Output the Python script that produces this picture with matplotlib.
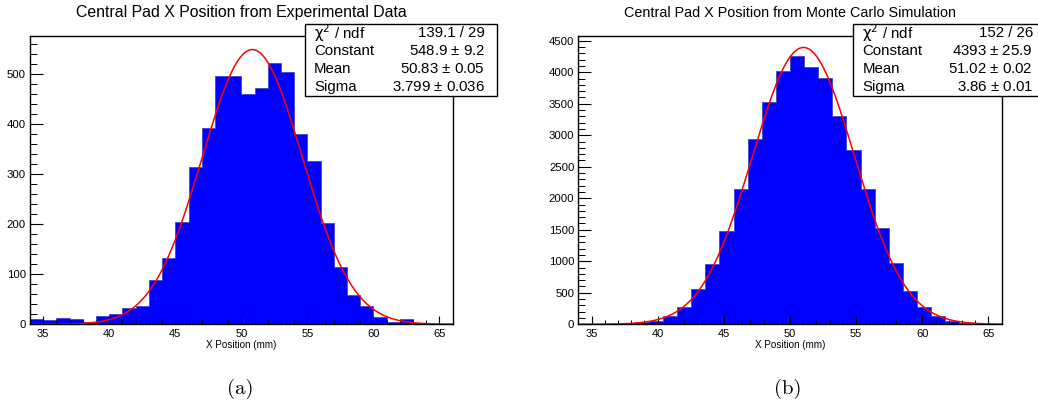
import numpy as np
import matplotlib
matplotlib.use("Agg")
import matplotlib.pyplot as plt
from matplotlib.ticker import MultipleLocator
from matplotlib.patches import Rectangle

# ---- data -------------------------------------------------------------
x_range = (34.0, 66.0)

# experimental data: 32 bins of 1 mm
exp_counts = [11, 9, 12, 11, 5, 17, 20, 32, 37, 89, 132, 204, 315, 393, 497, 497,
              461, 473, 523, 505, 380, 327, 203, 115, 59, 36, 15, 5, 10, 2, 1, 1]
# Monte Carlo: 30 bins over the same range
mc_counts = [0, 2, 6, 15, 32, 57, 132, 280, 566, 957, 1481, 2142, 2946, 3522, 4020,
             4258, 4088, 3903, 3306, 2761, 2142, 1534, 968, 534, 270, 132, 58, 25, 9, 3]

# gaussian fit results (constant, mean, sigma)
exp_fit = (548.9, 50.83, 3.799)
mc_fit = (4393.0, 51.02, 3.86)

titles = ["Central Pad X Position from Experimental Data",
          "Central Pad X Position from Monte Carlo Simulation"]
stat_labels = [r"$\mathrm{\chi}^{2}$ / ndf", "Constant", "Mean", "Sigma"]
exp_stats = ["139.1 / 29", "548.9 $\\pm$ 9.2", "50.83 $\\pm$ 0.05", "3.799 $\\pm$ 0.036"]
mc_stats = ["152 / 26", "4393 $\\pm$ 25.9", "51.02 $\\pm$ 0.02", "3.86 $\\pm$ 0.01"]
xlabel = "X Position (mm)"
captions = ["(a)", "(b)"]

# ---- figure -----------------------------------------------------------
W, H = 1038, 407
plt.rcParams["font.family"] = ["Liberation Sans", "DejaVu Sans"]
plt.rcParams["mathtext.fontset"] = "custom"
plt.rcParams["mathtext.rm"] = "Liberation Sans"
plt.rcParams["mathtext.it"] = "Liberation Sans:italic"
fig = plt.figure(figsize=(W / 100, H / 100), dpi=100)


def px_box(x0, y0, x1, y1):
    """Convert pixel box (top-left origin) to figure fraction rect."""
    return [x0 / W, 1 - y1 / H, (x1 - x0) / W, (y1 - y0) / H]


def draw_panel(rect, counts, fit, title, title_size, stats, ymax, ymaj, ymin_step,
               stat_rect, caption, cap_x):
    ax = fig.add_axes(px_box(*rect))
    n = len(counts)
    edges = np.linspace(x_range[0], x_range[1], n + 1)
    ax.hist(edges[:-1], bins=edges, weights=counts, histtype="stepfilled",
            facecolor="#0000ff", edgecolor="#4545c8", linewidth=0.6)
    xs = np.linspace(x_range[0], x_range[1], 600)
    c, m, s = fit
    ax.plot(xs, c * np.exp(-0.5 * ((xs - m) / s) ** 2), color="#ff0000", lw=1.1)
    ax.set_xlim(*x_range)
    ax.set_ylim(0, ymax)
    ax.xaxis.set_major_locator(MultipleLocator(5))
    ax.xaxis.set_minor_locator(MultipleLocator(1))
    ax.yaxis.set_major_locator(MultipleLocator(ymaj))
    ax.yaxis.set_minor_locator(MultipleLocator(ymin_step))
    ax.tick_params(axis="x", which="major", direction="in", length=5.8, width=0.8,
                   labelsize=8.0, pad=3.2, top=False)
    ax.tick_params(axis="x", which="minor", direction="in", length=2.9, width=0.7, top=False)
    ax.tick_params(axis="y", which="major", direction="in", length=9.4, width=0.8,
                   labelsize=8.2, pad=2.9, right=False)
    ax.tick_params(axis="y", which="minor", direction="in", length=5.0, width=0.7, right=False)
    for sp in ax.spines.values():
        sp.set_linewidth(1.0)
    ax.set_xlabel(xlabel, fontsize=7.1)
    ax.xaxis.set_label_coords(0.5, -0.072)
    ax.xaxis.label.set_va("center")

    cx = (rect[0] + rect[2]) / 2
    fig.text(cx / W, 1 - 13 / H, title, ha="center", va="center", fontsize=title_size)

    # statistics box
    sx0, sy0, sx1, sy1 = stat_rect
    fig.patches.append(Rectangle((sx0 / W, 1 - sy1 / H), (sx1 - sx0) / W, (sy1 - sy0) / H,
                                 transform=fig.transFigure, facecolor="white",
                                 edgecolor="black", linewidth=1.0, zorder=5))
    row_h = (sy1 - sy0) / 4
    for i, (lab, val) in enumerate(zip(stat_labels, stats)):
        yc = sy0 + row_h * (i + 0.5)
        fig.text((sx0 + 9) / W, 1 - yc / H, lab, ha="left", va="center",
                 fontsize=10.8, zorder=6,
                 math_fontfamily="dejavusans" if i == 0 else None)
        fig.text((sx1 - 12) / W, 1 - yc / H, val, ha="right", va="center",
                 fontsize=10.8, zorder=6)

    fig.text(cap_x / W, 1 - 389 / H, caption, ha="center", va="center",
             fontsize=15, family="cmr10")
    return ax


draw_panel((30, 36, 452.7, 324.3), exp_counts, exp_fit, titles[0], 11.4, exp_stats,
           576, 100, 20, (305, 24, 497, 95.7), captions[0], 240)
draw_panel((578.3, 36, 1001.7, 324.3), mc_counts, mc_fit, titles[1], 10.35, mc_stats,
           4575, 500, 100, (853.3, 24, 1045, 95.7), captions[1], 788)

fig.savefig("out.png", dpi=100)
